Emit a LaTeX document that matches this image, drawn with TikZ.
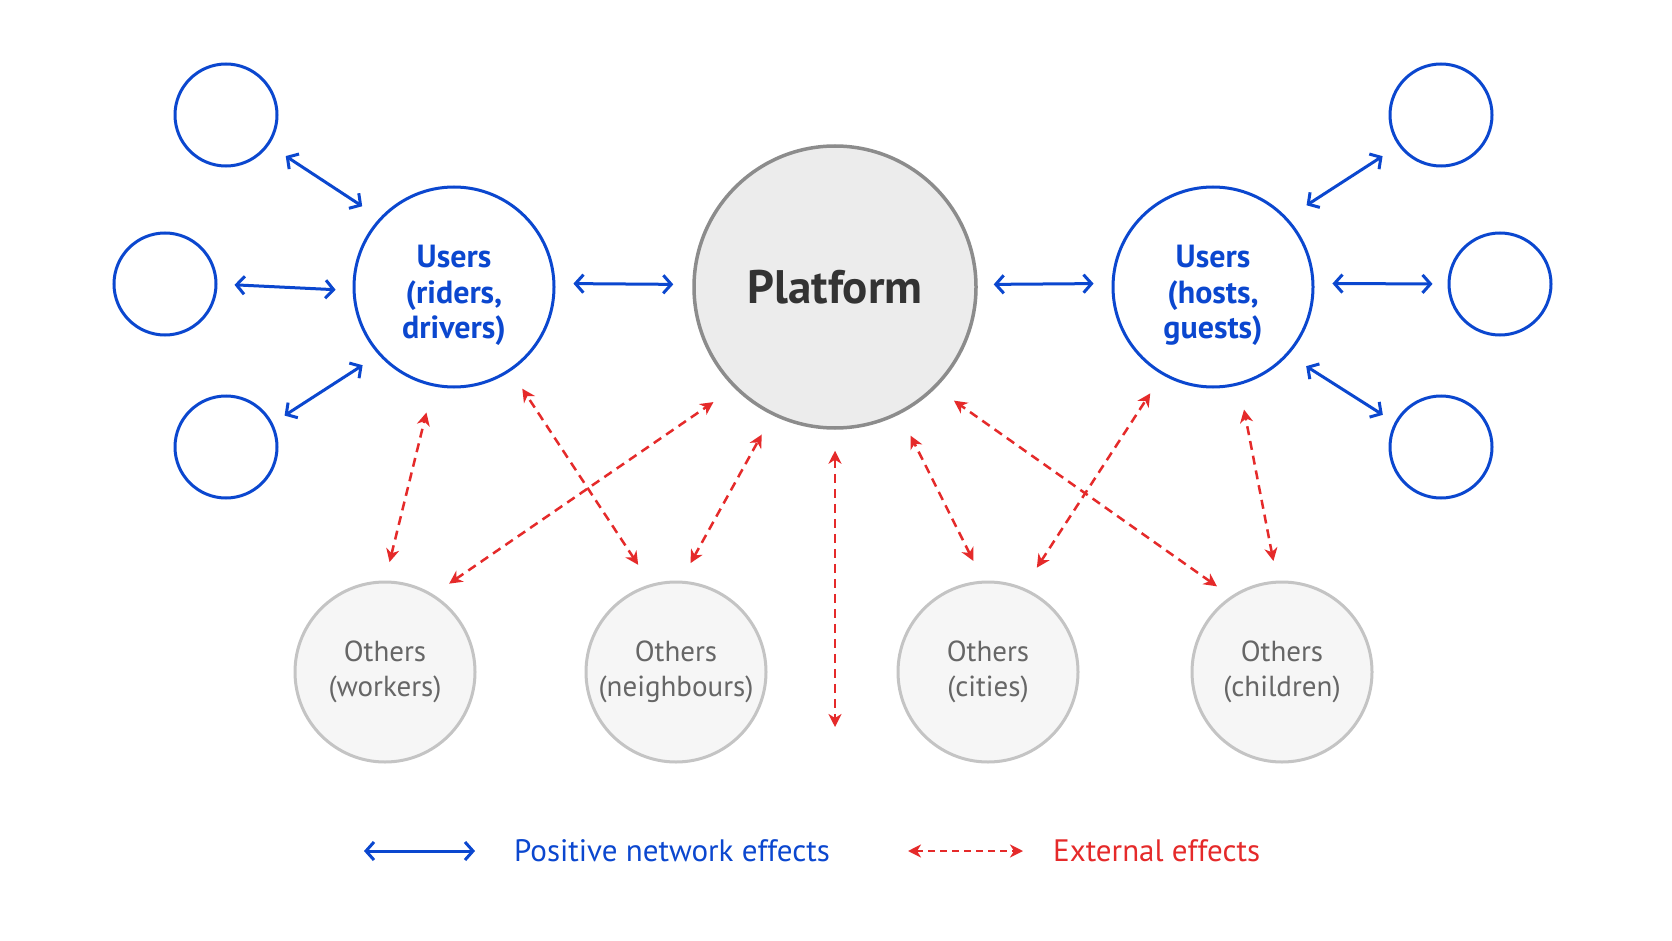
\documentclass[tikz,border=0pt]{standalone}
\usepackage{fontspec}
\setmainfont{PT Sans}
\usetikzlibrary{arrows.meta}
\definecolor{netblue}{HTML}{0B47CF}
\definecolor{extred}{HTML}{E52A2A}
\definecolor{othline}{HTML}{C4C4C4}
\definecolor{othfill}{HTML}{F6F6F6}
\definecolor{othtext}{HTML}{666666}
\definecolor{platline}{HTML}{8C8C8C}
\definecolor{platfill}{HTML}{ECECEC}
\definecolor{plattext}{HTML}{333333}
\newcommand{\stackedtext}[2]{\raisebox{#1}[\height][\depth]{\begin{tabular}{@{}c@{}}#2\end{tabular}}}
\tikzset{
  smallc/.style={circle, draw=netblue, line width=3pt, minimum size=102pt, inner sep=0pt},
  userc/.style={circle, draw=netblue, line width=3pt, minimum size=200pt, inner sep=0pt,
    text=netblue, font=\bfseries\fontsize{32}{35.5}\selectfont},
  platc/.style={circle, draw=platline, fill=platfill, line width=3.5pt, minimum size=282pt,
    inner sep=0pt, text=plattext, font=\bfseries\fontsize{47}{52}\selectfont},
  othc/.style={circle, draw=othline, fill=othfill, line width=3pt, minimum size=180pt,
    inner sep=0pt, text=othtext, font=\fontsize{29}{35}\selectfont, align=center},
  posarrow/.style={draw=netblue, line width=3pt,
    {Straight Barb[length=8pt,width=18pt]}-{Straight Barb[length=8pt,width=18pt]}},
  extarrow/.style={draw=extred, line width=2.5pt, dash pattern=on 9pt off 6pt,
    {Stealth[length=13pt,width=13pt,inset=4pt]}-{Stealth[length=13pt,width=13pt,inset=4pt]}},
  legtext/.style={anchor=west, inner sep=0pt, font=\fontsize{31}{36}\selectfont}
}
\begin{document}
\begin{tikzpicture}[x=1pt,y=-1pt]
\fill[white] (0,0) rectangle (1672,941);
\useasboundingbox (0,0) rectangle (1672,941);

% main nodes
\node[platc] (P) at (835,287) {Platform};
\node[userc] (uL) at (454,287) {\stackedtext{-9pt}{Users\\(riders,\\drivers)}};
\node[userc] (uR) at (1213,287) {\stackedtext{-9pt}{Users\\(hosts,\\guests)}};

% small user circles
\node[smallc] (tl) at (226,115) {};
\node[smallc] (ml) at (165,284) {};
\node[smallc] (bl) at (226,447) {};
\node[smallc] (tr) at (1441,115) {};
\node[smallc] (mr) at (1500,284) {};
\node[smallc] (br) at (1441,447) {};

% others
\node[othc] (ow) at (385,672) {Others\\(workers)};
\node[othc] (on) at (676,672) {Others\\(neighbours)};
\node[othc] (oc) at (988,672) {Others\\(cities)};
\node[othc] (och) at (1282,672) {Others\\(children)};

% positive network effects
\draw[posarrow, shorten <=20pt, shorten >=21pt] (tl.-35) -- (uL.137);
\draw[posarrow, shorten <=17pt, shorten >=17pt] (ml.east) -- (uL.182);
\draw[posarrow, shorten <=14pt, shorten >=19pt] (bl.27) -- (uL.-138);
\draw[posarrow, shorten <=18pt, shorten >=19pt] (uL.2) -- (P.179);
\draw[posarrow, shorten <=16pt, shorten >=18pt] (P.1) -- (uR.178);
\draw[posarrow, shorten <=18pt, shorten >=15pt] (uR.2) -- (mr.west);
\draw[posarrow, shorten <=23pt, shorten >=19pt] (uR.43) -- (tr.-144);
\draw[posarrow, shorten <=21pt, shorten >=14pt] (uR.-42) -- (br.152);

% external effects
\draw[extarrow, shorten <=19pt, shorten >=27pt] (ow.90) -- (uL.-102);
\draw[extarrow, shorten <=19pt, shorten >=25pt] (ow.58) -- (P.-135);
\draw[extarrow, shorten <=23pt, shorten >=21pt] (on.106) -- (uL.-56);
\draw[extarrow, shorten <=20pt, shorten >=22pt] (on.87) -- (P.-116);
\coordinate (pend) at (835,727);
\draw[extarrow, shorten <=21pt] (P.south) -- (pend);
\draw[extarrow, shorten <=22pt, shorten >=24pt] (oc.93) -- (P.-63);
\draw[extarrow, shorten <=24pt, shorten >=22pt] (oc.67) -- (uR.-120);
\draw[extarrow, shorten <=17pt, shorten >=22pt] (och.124) -- (P.-45);
\draw[extarrow, shorten <=20pt, shorten >=25pt] (och.93) -- (uR.-75);

% legend
\coordinate (lb1) at (364,851);
\coordinate (lb2) at (475,851);
\draw[posarrow] (lb1) -- (lb2);
\node[legtext, text=netblue] (lbt) at (514,851) {Positive network effects};
\coordinate (lr1) at (908,851);
\coordinate (lr2) at (1023,851);
\draw[extarrow, dash pattern=on 7pt off 5pt] (lr1) -- (lr2);
\node[legtext, text=extred] (lrt) at (1053,851) {External effects};
\end{tikzpicture}
\end{document}
